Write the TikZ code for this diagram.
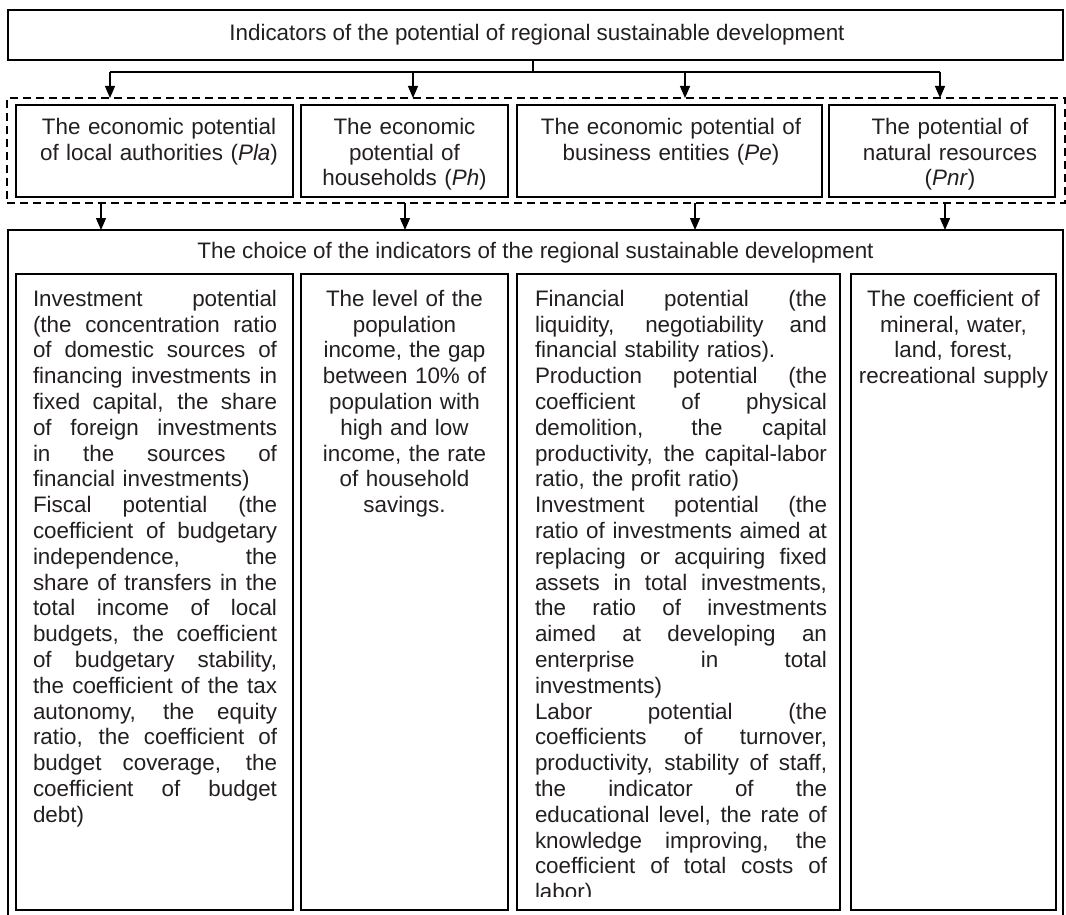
\documentclass[tikz,border=0pt]{standalone}
\usepackage{fontspec}
\setmainfont{Liberation Sans}
\usetikzlibrary{arrows.meta}
\definecolor{txt}{HTML}{231F20}
\newcommand{\ja}[1]{\leavevmode\hbox to 244pt{\spaceskip=0.278em plus 1fil\relax #1}}
\newcommand{\jb}[1]{\leavevmode\hbox to 292pt{\spaceskip=0.278em plus 1fil\relax #1}}
\begin{document}
\begin{tikzpicture}[x=1pt,y=-1pt,
  every node/.style={text=txt, inner sep=0pt, outer sep=0pt},
  frame/.style={draw=black, line width=1.2pt, inner sep=0pt, outer sep=0pt},
  fbig/.style={font=\fontsize{22.4}{25.8}\selectfont},
  conn/.style={draw=black, line width=1.3pt},
  arr/.style={draw=black, line width=1.3pt, -{Triangle[length=12pt,width=10pt]}},
  dashbox/.style={draw=black, line width=1.8pt, dash pattern=on 8pt off 5pt, inner sep=0pt, outer sep=0pt},
]
\useasboundingbox (0,0) rectangle (1066,915);

% top box
\node[frame, anchor=north west, minimum width=1055pt, minimum height=50pt] (top) at (8,10) {};
\node[fbig] (toptext) at (537,35) {Indicators of the potential of regional sustainable development};

% dashed group
\node[dashbox, anchor=north west, minimum width=1058pt, minimum height=105pt] (grp) at (7,98) {};

% upper boxes
\node[frame, anchor=north west, minimum width=277pt, minimum height=92pt] (u1) at (16,105) {};
\node[frame, anchor=north west, minimum width=207pt, minimum height=92pt] (u2) at (301,105) {};
\node[frame, anchor=north west, minimum width=305pt, minimum height=92pt] (u3) at (517,105) {};
\node[frame, anchor=north west, minimum width=226pt, minimum height=92pt] (u4) at (829,105) {};

\node[fbig, text width=260pt, align=center, anchor=north] (u1t) at (159,118) {The economic potential\\of local authorities (\textit{Pla})};
\node[fbig, text width=200pt, align=center, anchor=north] (u2t) at (404.5,118) {The economic\\potential of\\households (\textit{Ph})};
\node[fbig, text width=290pt, align=center, anchor=north] (u3t) at (671,118) {The economic potential of\\business entities (\textit{Pe})};
\node[fbig, text width=215pt, align=center, anchor=north] (u4t) at (950,118) {The potential of\\natural resources\\(\textit{Pnr})};

% connectors from top box
\coordinate (j) at (533,72);
\coordinate (h1) at (110,72);
\coordinate (h2) at (413,72);
\coordinate (h3) at (685,72);
\coordinate (h4) at (940,72);
\coordinate (a1) at (110,98);
\coordinate (a2) at (413,98);
\coordinate (a3) at (685,98);
\coordinate (a4) at (940,98);
\draw[conn] (top.south -| j) -- (j);
\draw[conn] (h1) -- (h4);
\draw[arr] (h1) -- (a1);
\draw[arr] (h2) -- (a2);
\draw[arr] (h3) -- (a3);
\draw[arr] (h4) -- (a4);

% arrows from group to choice box
\coordinate (s1) at (101,203);
\coordinate (s2) at (405,203);
\coordinate (s3) at (695,203);
\coordinate (s4) at (945,203);
\coordinate (e1) at (101,230);
\coordinate (e2) at (405,230);
\coordinate (e3) at (695,230);
\coordinate (e4) at (945,230);
\draw[arr] (s1) -- (e1);
\draw[arr] (s2) -- (e2);
\draw[arr] (s3) -- (e3);
\draw[arr] (s4) -- (e4);

% choice box (open at the bottom)
\coordinate (cbl) at (8,915);
\coordinate (ctl) at (8,230);
\coordinate (ctr) at (1063,230);
\coordinate (cbr) at (1063,915);
\draw[frame] (cbl) -- (ctl) -- (ctr) -- (cbr);
\node[fbig] (choice) at (535.5,253) {The choice of the indicators of the regional sustainable development};

% lower boxes
\node[frame, anchor=north west, minimum width=277pt, minimum height=636pt] (l1) at (16,274) {};
\node[frame, anchor=north west, minimum width=207pt, minimum height=636pt] (l2) at (301,274) {};
\node[frame, anchor=north west, minimum width=323pt, minimum height=636pt] (l3) at (517,274) {};
\node[frame, anchor=north west, minimum width=205pt, minimum height=636pt] (l4) at (851,274) {};

\node[fbig, text width=244pt, align=left, anchor=north west] (l1t) at (33,290) {%
\ja{Investment potential}\\
\ja{(the concentration ratio}\\
\ja{of domestic sources of}\\
\ja{financing investments in}\\
\ja{fixed capital, the share}\\
\ja{of foreign investments}\\
\ja{in the sources of}\\
financial investments)\\
\ja{Fiscal potential (the}\\
\ja{coefficient of budgetary}\\
\ja{independence, the}\\
\ja{share of transfers in the}\\
\ja{total income of local}\\
\ja{budgets, the coefficient}\\
\ja{of budgetary stability,}\\
\ja{the coefficient of the tax}\\
\ja{autonomy, the equity}\\
\ja{ratio, the coefficient of}\\
\ja{budget coverage, the}\\
\ja{coefficient of budget}\\
debt)};

\node[fbig, text width=200pt, align=center, anchor=north] (l2t) at (404.5,290) {%
The level of the\\population\\income, the gap\\between 10\% of\\population with\\high and low\\income, the rate\\of household\\savings.};

\begin{scope}
\clip (517,274) rectangle (840,896);
\node[fbig, text width=292pt, align=left, anchor=north west] (l3t) at (535,290) {%
\jb{Financial potential (the}\\
\jb{liquidity, negotiability and}\\
financial stability ratios).\\
\jb{Production potential (the}\\
\jb{coefficient of physical}\\
\jb{demolition, the capital}\\
\jb{productivity, the capital-labor}\\
ratio, the profit ratio)\\
\jb{Investment potential (the}\\
\jb{ratio of investments aimed at}\\
\jb{replacing or acquiring fixed}\\
\jb{assets in total investments,}\\
\jb{the ratio of investments}\\
\jb{aimed at developing an}\\
\jb{enterprise in total}\\
investments)\\
\jb{Labor potential (the}\\
\jb{coefficients of turnover,}\\
\jb{productivity, stability of staff,}\\
\jb{the indicator of the}\\
\jb{educational level, the rate of}\\
\jb{knowledge improving, the}\\
\jb{coefficient of total costs of}\\
labor)};
\end{scope}

\node[fbig, text width=205pt, align=center, anchor=north] (l4t) at (953.5,290) {%
The coefficient of\\mineral, water,\\land, forest,\\recreational supply};

\end{tikzpicture}
\end{document}
